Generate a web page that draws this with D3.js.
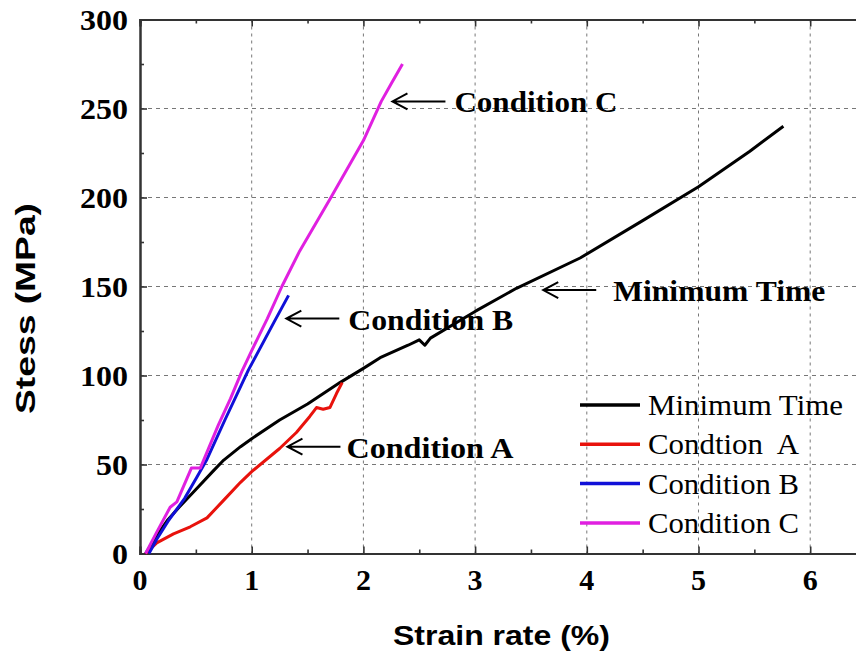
<!DOCTYPE html>
<html><head><meta charset="utf-8">
<script src="https://cdn.jsdelivr.net/npm/d3@7"></script>
<style>body{margin:0;background:#fff}svg{display:block}</style>
</head><body>
<svg id="c" width="856" height="658"></svg>
<script>
const xTicks = [0,1,2,3,4,5,6];
const yTicks = [0,50,100,150,200,250,300];
const minimumTime = [[0.05,0],[0.15,10],[0.25,19],[0.35,26],[0.5,36],[0.65,46],[0.75,52.5],[0.9,60],[1.0,64.5],[1.25,75],[1.5,84],[1.79,96],[2.0,104],[2.15,110],[2.4,117],[2.5,120],[2.55,117],[2.6,121],[3.0,136],[3.37,149],[3.94,166],[4.5,187],[5.0,206],[5.46,226],[5.76,240]];
const conditionA = [[0.05,0],[0.15,6],[0.3,11],[0.45,15],[0.6,20],[0.75,30],[0.9,40],[1.0,46],[1.25,59],[1.4,68],[1.52,77],[1.58,82],[1.64,81],[1.70,82],[1.76,90],[1.81,96]];
const conditionB = [[0.08,0],[0.15,8],[0.25,18],[0.4,31],[0.51,43],[0.6,53],[0.76,75],[0.97,103],[1.2,130],[1.33,145]];
const conditionC = [[0.05,0],[0.15,12],[0.27,26],[0.33,29],[0.46,48],[0.54,48],[0.7,72],[0.81,87],[0.91,102],[1.0,114],[1.14,132],[1.27,150],[1.43,170],[1.7,199],[2.0,232],[2.16,254],[2.25,264],[2.35,275]];
const seriesNames = ["Minimum Time","Condtion  A","Condition B","Condition C"];
const seriesColors = ["#000000","#e8120c","#1010d8","#e020e0"];
const seriesData = [minimumTime, conditionA, conditionB, conditionC];
const annotationTexts = ["Condition C","Condition B","Condition A","Minimum Time"];
const annotationPoints = [[2.26,254],[1.31,132],[1.32,60],[3.61,148]];

const svg = d3.select("#c");
const L = 140, T = 19.5, B = 553.5;
const x = d3.scaleLinear().domain([0,6.5]).range([L, L + 6.5*111.7]);
const y = d3.scaleLinear().domain([0,300]).range([B, T]);
const serif = "Liberation Serif, Times New Roman, serif";
const sans = "Liberation Sans, Arial, sans-serif";

// grid
const g = svg.append("g");
g.selectAll("line.gx").data(xTicks.filter(d=>d>0)).join("line")
  .attr("x1",d=>x(d)).attr("x2",d=>x(d)).attr("y1",T).attr("y2",B)
  .attr("stroke","#777").attr("stroke-width",1).attr("stroke-dasharray","3,4");
g.selectAll("line.gy").data(yTicks.filter(d=>d>0&&d<300)).join("line")
  .attr("y1",d=>y(d)).attr("y2",d=>y(d)).attr("x1",L).attr("x2",856)
  .attr("stroke","#777").attr("stroke-width",1).attr("stroke-dasharray","4,4");

// axes
const ax = svg.append("g");
const axBottom = d3.axisBottom(x).tickValues(xTicks).tickSize(-7).tickFormat("");
const axBottomMinor = d3.axisBottom(x).tickValues(d3.range(0.5,6.5,1)).tickSize(-4).tickFormat("");
const axTop = d3.axisTop(x).tickValues(xTicks).tickSize(-7).tickFormat("");
const axTopMinor = d3.axisTop(x).tickValues(d3.range(0.5,6.5,1)).tickSize(-4).tickFormat("");
const axLeft = d3.axisLeft(y).tickValues(yTicks).tickSize(-7).tickFormat("");
const axLeftMinor = d3.axisLeft(y).tickValues(d3.range(25,300,50)).tickSize(-4).tickFormat("");
[[axBottom,`translate(0,${B})`],[axBottomMinor,`translate(0,${B})`],[axTop,`translate(0,${T})`],[axTopMinor,`translate(0,${T})`],[axLeft,`translate(${L},0)`],[axLeftMinor,`translate(${L},0)`]].forEach(([a,t])=>{
  const gg = ax.append("g").attr("transform",t).call(a);
  gg.selectAll("path").attr("stroke","#333").attr("stroke-width",2);
  gg.selectAll("line").attr("stroke","#333").attr("stroke-width",1.6);
});

// tick labels
svg.append("g").selectAll("text").data(xTicks).join("text")
  .attr("x",d=>x(d)).attr("y",590).attr("text-anchor","middle")
  .attr("font-family",serif).attr("font-weight","bold").attr("font-size",30)
  .text(d=>d);
svg.append("g").selectAll("text").data(yTicks).join("text")
  .attr("x",128).attr("y",d=>y(d)+10).attr("text-anchor","end")
  .attr("font-family",serif).attr("font-weight","bold").attr("font-size",30)
  .attr("textLength",d=>String(d).length*16).attr("lengthAdjust","spacingAndGlyphs")
  .text(d=>d);

// axis titles
svg.append("text").attr("x",393).attr("y",645)
  .attr("font-family",sans).attr("font-weight","bold").attr("font-size",28)
  .attr("textLength",217).attr("lengthAdjust","spacingAndGlyphs")
  .text("Strain rate (%)");
svg.append("text").attr("transform","translate(35,414) rotate(-90)")
  .attr("font-family",sans).attr("font-weight","bold").attr("font-size",28)
  .attr("textLength",211).attr("lengthAdjust","spacingAndGlyphs")
  .text("Stess (MPa)");

// lines
const line = d3.line().x(d=>x(d[0])).y(d=>y(d[1]));
svg.append("g").selectAll("path").data(seriesData).join("path")
  .attr("d",line).attr("fill","none")
  .attr("stroke",(d,i)=>seriesColors[i]).attr("stroke-width",3).attr("stroke-linejoin","round");

// annotations
const annGap = [62,62,59,70];
const annLen = [163,165,167,212];
const an = svg.append("g");
annotationTexts.forEach((t,i)=>{
  const px = x(annotationPoints[i][0]), py = y(annotationPoints[i][1]);
  an.append("path").attr("d",`M${px+53},${py} L${px},${py} M${px+15},${py-8} L${px},${py} L${px+15},${py+8}`)
    .attr("fill","none").attr("stroke","#000").attr("stroke-width",2);
  an.append("text").attr("x",px+annGap[i]).attr("y",py+11)
    .attr("font-family",serif).attr("font-weight","bold").attr("font-size",29)
    .attr("textLength",annLen[i]).attr("lengthAdjust","spacingAndGlyphs")
    .text(t);
});

// legend
const legLen = [195,151,151,151];
const lg = svg.append("g");
seriesNames.forEach((n,i)=>{
  const ly = 405 + i*39.3;
  lg.append("line").attr("x1",580).attr("x2",640).attr("y1",ly).attr("y2",ly)
    .attr("stroke",seriesColors[i]).attr("stroke-width",3.5);
  lg.append("text").attr("x",648).attr("y",ly+10)
    .attr("font-family",serif).attr("font-size",29)
    .attr("textLength",legLen[i]).attr("lengthAdjust","spacingAndGlyphs")
    .style("white-space","pre")
    .text(n);
});
</script>
</body></html>
